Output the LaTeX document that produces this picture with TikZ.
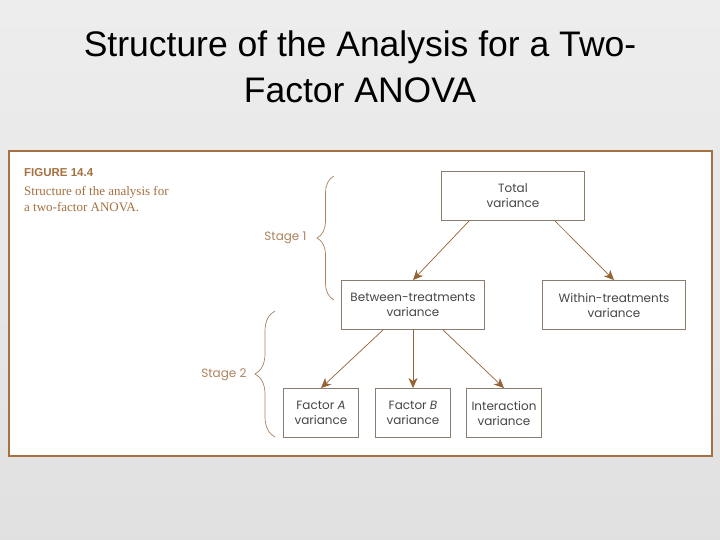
\documentclass[tikz,border=0pt]{standalone}
\usepackage{fontspec}
\setmainfont{Liberation Sans}
\newfontfamily\boxfont{Poppins}
\newfontfamily\captionserif{Liberation Serif}
\usetikzlibrary{decorations.pathreplacing}
\usetikzlibrary{arrows.meta}
\definecolor{framebrown}{RGB}{166,112,64}
\definecolor{arrowbrown}{RGB}{150,98,52}
\definecolor{boxgray}{RGB}{138,124,110}
\definecolor{stagebrown}{RGB}{172,132,96}
\definecolor{boxtext}{RGB}{70,70,70}

\begin{document}
\begin{tikzpicture}[
            x=1pt, y=-1pt,
            varbox/.style={draw=boxgray, line width=0.9pt, fill=white, align=center, inner sep=0pt,
                minimum height=49pt, text=boxtext, font=\boxfont\fontsize{12}{15}\selectfont},
            widebox/.style={varbox, minimum width=143pt},
            smallbox/.style={varbox, minimum width=75pt},
            flow/.style={color=arrowbrown, line width=0.7pt, -{Stealth[length=10pt, width=9pt, inset=3pt]}},
            stagebrace/.style={color=stagebrown, line width=0.7pt, decorate, decoration={brace, amplitude=17pt}},
            stagelabel/.style={anchor=east, text=stagebrown, font=\boxfont\fontsize{12}{14}\selectfont},
            titletext/.style={anchor=base, font=\fontsize{35.5}{46}\selectfont}
        ]
            % slide background
            \useasboundingbox (0, 0) rectangle (720, 540);
            \shade[top color=black!7, bottom color=black!12] (0, 0) rectangle (720, 540);

            % slide title
            \node[titletext] (title1) at (360, 57) {Structure of the Analysis for a Two-};
            \node[titletext] (title2) at (360, 103) {Factor ANOVA};

            % figure frame
            \draw[framebrown, line width=2.5pt, fill=white] (9, 151) rectangle (712, 456);

            % caption
            \node[anchor=base west, inner sep=0pt, text=framebrown, font=\bfseries\fontsize{11.5}{13}\selectfont] (figlabel) at (24, 177) {FIGURE 14.4};
            \node[anchor=north west, inner sep=0pt, align=left, text=framebrown, font=\captionserif\fontsize{13}{16}\selectfont] (figcaption) at (24, 186) {Structure of the analysis for\\a two-factor ANOVA.};

            % boxes
            \node[widebox] (total) at (513, 196) {Total\\variance};
            \node[widebox] (between) at (413, 305) {Between-treatments\\variance};
            \node[widebox] (within) at (614, 305) {Within-treatments\\variance};
            \node[smallbox] (factorA) at (321, 413) {Factor \textit{A}\\variance};
            \node[smallbox] (factorB) at (413, 413) {Factor \textit{B}\\variance};
            \node[smallbox] (interaction) at (504, 413) {Interaction\\variance};

            % stage 1
            \draw[flow] ([xshift=28pt]total.south west) -- (between.north);
            \draw[flow] ([xshift=-30pt]total.south east) -- (within.north);

            % stage 2
            \draw[flow] ([xshift=-30pt]between.south) -- (factorA.north);
            \draw[flow] (between.south) -- (factorB.north);
            \draw[flow] ([xshift=30pt]between.south) -- (interaction.north);

            % braces
            \coordinate (s1top) at (334, 176);
            \coordinate (s1bot) at (334, 300);
            \coordinate (s2top) at (275, 311);
            \coordinate (s2bot) at (275, 437);
            \draw[stagebrace] (s1bot) -- (s1top);
            \draw[stagebrace, decoration={amplitude=20pt}] (s2bot) -- (s2top);
            \node[stagelabel] (stage1) at (310, 238) {Stage 1};
            \node[stagelabel] (stage2) at (250, 375) {Stage 2};

        \end{tikzpicture}
\end{document}
